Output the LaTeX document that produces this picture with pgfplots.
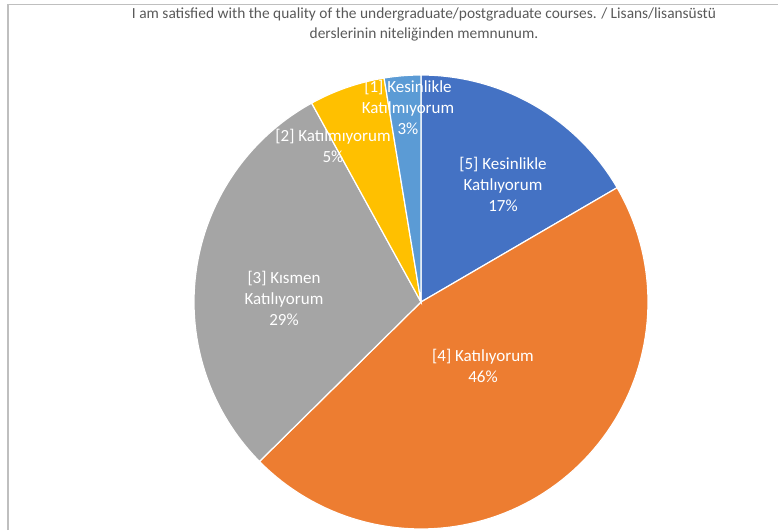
\documentclass[border=0pt]{standalone}
\usepackage{pgfplots}
\usepackage{pgfplotstable}
\pgfplotsset{compat=1.18}
\usepackage{fontspec}
\setmainfont{Carlito}
\definecolor{cfive}{HTML}{4472C4}
\definecolor{cfour}{HTML}{ED7D31}
\definecolor{cthree}{HTML}{A5A5A5}
\definecolor{ctwo}{HTML}{FFC000}
\definecolor{cone}{HTML}{5B9BD5}
\definecolor{ttl}{HTML}{595959}
\pgfplotstableread{
label pct
5 16.6
4 46.0
3 29.4
2 5.4
1 2.6
}\piedata
\begin{document}
\begin{tikzpicture}
\pgfplotstablegetelem{0}{pct}\of\piedata \let\pA\pgfplotsretval
\pgfplotstablegetelem{1}{pct}\of\piedata \let\pB\pgfplotsretval
\pgfplotstablegetelem{2}{pct}\of\piedata \let\pC\pgfplotsretval
\pgfplotstablegetelem{3}{pct}\of\piedata \let\pD\pgfplotsretval
\pgfplotstablegetelem{4}{pct}\of\piedata \let\pE\pgfplotsretval
\pgfmathsetmacro\aO{90}
\pgfmathsetmacro\aA{\aO-3.6*\pA}
\pgfmathsetmacro\aB{\aA-3.6*\pB}
\pgfmathsetmacro\aC{\aB-3.6*\pC}
\pgfmathsetmacro\aD{\aC-3.6*\pD}
\pgfmathsetmacro\aE{\aD-3.6*\pE}
\begin{axis}[hide axis, scale only axis, x=1pt, y=1pt,
  xmin=0, xmax=778, ymin=0, ymax=530, clip=false,
  every axis plot/.append style={draw=white, line width=1.2pt, samples=90, variable=\t}]
\addplot[fill=cfive, domain=\aA:\aO] ({421+227*cos(t)},{228+227*sin(t)}) -- (axis cs:421,228) -- cycle;
\addplot[fill=cfour, domain=\aB:\aA] ({421+227*cos(t)},{228+227*sin(t)}) -- (axis cs:421,228) -- cycle;
\addplot[fill=cthree, domain=\aC:\aB] ({421+227*cos(t)},{228+227*sin(t)}) -- (axis cs:421,228) -- cycle;
\addplot[fill=ctwo, domain=\aD:\aC] ({421+227*cos(t)},{228+227*sin(t)}) -- (axis cs:421,228) -- cycle;
\addplot[fill=cone, domain=\aE:\aD] ({421+227*cos(t)},{228+227*sin(t)}) -- (axis cs:421,228) -- cycle;
\coordinate (bbA) at (axis cs:0,0);
\coordinate (bbB) at (axis cs:778,530);
% frame
\draw[color=black!25, line width=1.5pt] (axis cs:8,0) -- (axis cs:8,525.5) -- (axis cs:778,525.5);
% title
\node[text=ttl, font=\fontsize{15.4}{20}\selectfont, align=center] at (axis cs:424,506) {I am satisfied with the quality of the undergraduate/postgraduate courses. / Lisans/lisansüstü\\derslerinin niteliğinden memnunum.};
% labels
\begin{scope}[every node/.style={text=white, align=center, font=\fontsize{17}{21}\selectfont}]
\node at (axis cs:503,346) {[5] Kesinlikle\\Katılıyorum\\17\%};
\node at (axis cs:483,164.5) {[4] Katılıyorum\\46\%};
\node at (axis cs:284,232) {[3] Kısmen\\Katılıyorum\\29\%};
\node at (axis cs:333,384.5) {[2] Katılmıyorum\\5\%};
\node at (axis cs:408,423) {[1] Kesinlikle\\Katılmıyorum\\3\%};
\end{scope}
\end{axis}
\pgfresetboundingbox
\path[use as bounding box] (bbA) rectangle (bbB);
\end{tikzpicture}
\end{document}
